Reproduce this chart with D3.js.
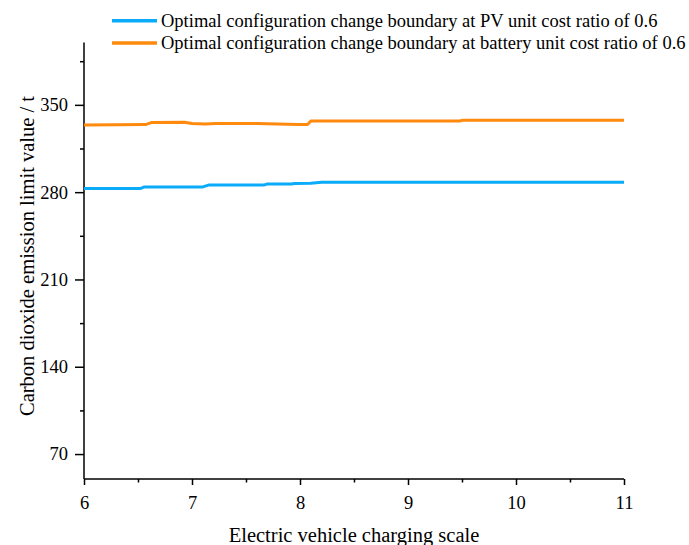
<!DOCTYPE html>
<html>
<head>
<meta charset="utf-8">
<script src="https://cdn.jsdelivr.net/npm/d3@7"></script>
<style>
  html, body { margin: 0; padding: 0; background: #fff; }
  svg { display: block; }
  text { font-family: "Liberation Serif", "Times New Roman", serif; fill: #000; }
</style>
</head>
<body>
<svg id="chart" width="689" height="545"></svg>
<script>
// ---- data ----
const seriesNames = [
  "Optimal configuration change boundary at PV unit cost ratio of 0.6",
  "Optimal configuration change boundary at battery unit cost ratio of 0.6"
];
const seriesColors = ["#0AABF8", "#FF8A0D"];
const pvX = [6.0, 6.52, 6.56, 7.10, 7.16, 7.67, 7.70, 7.92, 7.95, 8.10, 8.20, 11.0];
const pvY = [282.9, 282.9, 284.2, 284.2, 285.8, 285.8, 286.6, 286.6, 287.0, 287.2, 287.9, 287.9];
const batX = [6.0, 6.30, 6.57, 6.63, 6.93, 7.00, 7.12, 7.22, 7.60, 7.98, 8.07, 8.10, 9.48, 9.50, 11.0];
const batY = [333.8, 334.1, 334.2, 335.9, 336.1, 335.0, 334.6, 335.0, 335.0, 334.3, 334.3, 337.0, 337.1, 337.6, 337.7];
const xTicks = [6, 7, 8, 9, 10, 11];
const xMinorTicks = [6.5, 7.5, 8.5, 9.5, 10.5];
const yTicks = [70, 140, 210, 280, 350];
const yMinorTicks = [105, 175, 245, 315, 385];
const xTitle = "Electric vehicle charging scale";
const yTitle = "Carbon dioxide emission limit value / t";

// ---- layout ----
const svg = d3.select("#chart");
const mLeft = 84, mRight = 624, mTop = 42.5, mBottom = 479;
const x = d3.scaleLinear().domain([6, 11]).range([mLeft, mRight]);
const y = d3.scaleLinear().domain([50, 400]).range([mBottom, mTop]);

const serif = '"Liberation Serif", "Times New Roman", serif';
const fontSize = 18.5;

// x axis
const gx = svg.append("g").attr("transform", `translate(0,${mBottom})`);
gx.call(d3.axisBottom(x).tickValues(xTicks).tickSize(6).tickPadding(11).tickFormat(d3.format("d")));
gx.append("g").call(d3.axisBottom(x).tickValues(xMinorTicks).tickSize(3.5).tickFormat(""))
  .select(".domain").remove();
gx.attr("font-family", serif).attr("font-size", fontSize);
gx.selectAll("text").attr("font-family", serif).attr("font-size", fontSize).style("font-family", serif);
gx.selectAll("path.domain").attr("stroke", "#000").attr("stroke-width", 1.5).attr("d", `M${mLeft},0H${mRight}`);
gx.selectAll("line").attr("stroke", "#000").attr("stroke-width", 1.5);

// y axis
const gy = svg.append("g").attr("transform", `translate(${mLeft},0)`);
gy.call(d3.axisLeft(y).tickValues(yTicks).tickSize(9).tickPadding(7).tickFormat(d3.format("d")));
gy.append("g").call(d3.axisLeft(y).tickValues(yMinorTicks).tickSize(4).tickFormat(""))
  .select(".domain").remove();
gy.attr("font-family", serif).attr("font-size", fontSize);
gy.selectAll("text").attr("font-family", serif).attr("font-size", fontSize).style("font-family", serif);
gy.selectAll("path.domain").attr("stroke", "#000").attr("stroke-width", 1.5).attr("d", `M0,${mTop}V${mBottom}`);
gy.selectAll("line").attr("stroke", "#000").attr("stroke-width", 1.5);

// titles
svg.append("text")
  .attr("x", 354).attr("y", 542)
  .attr("text-anchor", "middle")
  .style("font-size", "20.5px")
  .text(xTitle);
svg.append("text")
  .attr("transform", `translate(34,256) rotate(-90)`)
  .attr("text-anchor", "middle")
  .style("font-size", "20.5px")
  .text(yTitle);

// lines
const line = d3.line().x(d => x(d[0])).y(d => y(d[1]));
const pvData = pvX.map((v, i) => [v, pvY[i]]);
const batData = batX.map((v, i) => [v, batY[i]]);
[pvData, batData].forEach((data, i) => {
  svg.append("path")
    .datum(data)
    .attr("fill", "none")
    .attr("stroke", seriesColors[i])
    .attr("stroke-width", 3)
    .attr("stroke-linejoin", "round")
    .attr("d", line);
});

// legend
const legendY = [20.7, 43];
seriesNames.forEach((name, i) => {
  svg.append("line")
    .attr("x1", 112).attr("x2", 157)
    .attr("y1", legendY[i]).attr("y2", legendY[i])
    .attr("stroke", seriesColors[i]).attr("stroke-width", 3.5);
  svg.append("text")
    .attr("x", 161).attr("y", legendY[i] + 6)
    .style("font-size", "18.5px")
    .text(name);
});
</script>
</body>
</html>
